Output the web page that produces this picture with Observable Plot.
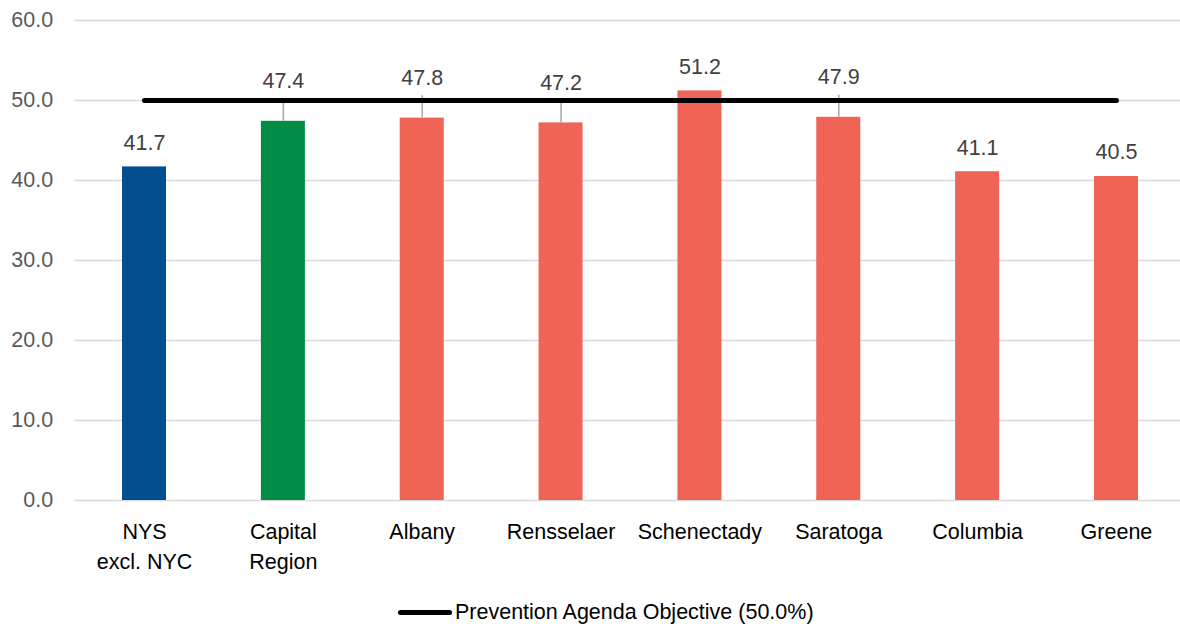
<!DOCTYPE html>
<html>
<head>
<meta charset="utf-8">
<script src="https://cdn.jsdelivr.net/npm/d3@7"></script>
<script src="https://cdn.jsdelivr.net/npm/@observablehq/plot@0.6"></script>
<style>
  html, body { margin: 0; padding: 0; background: #fff; }
  #legend { display: flex; align-items: center; height: 44px; margin-left: 398px;
    font-family: "Liberation Sans", Arial, sans-serif; font-size: 21.5px; color: #000; }
  #legend .sw { width: 54px; height: 5px; background: #000; border-radius: 3px; margin-right: 3px; }
</style>
</head>
<body>
<div id="chart"></div>
<div id="legend"><span class="sw"></span><span id="legtext"></span></div>
<script>
const categories = ["NYS\nexcl. NYC", "Capital\nRegion", "Albany", "Rensselaer", "Schenectady", "Saratoga", "Columbia", "Greene"];
const values = [41.7, 47.4, 47.8, 47.2, 51.2, 47.9, 41.1, 40.5];
const groups = ["State", "Region", "County", "County", "County", "County", "County", "County"];
const objective = 50.0;
const objectiveLabel = "Prevention Agenda Objective (50.0%)";
const yTicks = [0, 10, 20, 30, 40, 50, 60];

const data = categories.map((c, i) => ({cat: c, v: values[i], g: groups[i], target: objective}));
const crowded = d => Math.abs(d.v + 3 - objective) < 2.5;

const font = '"Liberation Sans", Arial, sans-serif';

const chart = Plot.plot({
  width: 1180,
  height: 590,
  marginTop: 20,
  marginBottom: 90,
  marginLeft: 74.6,
  marginRight: 0,
  style: {fontFamily: font, fontSize: "21.5px", background: "#fff"},
  x: {domain: categories, range: [74.6, 1185.4], paddingInner: 0.683, paddingOuter: 0.3415, round: false, label: null},
  y: {domain: [0, 60], label: null},
  color: {domain: ["State", "Region", "County"], range: ["#024f8f", "#038c46", "#f06456"]},
  marks: [
    Plot.ruleY(yTicks, {stroke: "#d9d9d9", strokeWidth: 1.3}),
    Plot.axisY(yTicks, {tickSize: 0, tickPadding: 22, tickFormat: d3.format(".1f"), fill: "#595959", fontSize: 21.5, label: null}),
    Plot.axisX({tickSize: 0, tickPadding: 17, fill: "#000", fontSize: 21.5, lineHeight: 1.4, label: null}),
    Plot.barY(data, {x: "cat", y: "v", fill: "g"}),
    Plot.ruleX(data.filter(crowded), {x: "cat", y1: "v", y2: d => d.v + 2.8, stroke: "#a6a6a6", strokeWidth: 1.5}),
    Plot.line(data, {x: "cat", y: "target", stroke: "#000", strokeWidth: 5, strokeLinecap: "round"}),
    Plot.text(data.filter(d => !crowded(d)), {x: "cat", y: "v", text: d => d3.format(".1f")(d.v), dy: -24, fill: "#404040", fontSize: 21.5}),
    Plot.text(data.filter(crowded), {x: "cat", y: "v", text: d => d3.format(".1f")(d.v), dy: -40, fill: "#404040", fontSize: 21.5})
  ]
});
document.getElementById("chart").appendChild(chart);
document.getElementById("legtext").textContent = objectiveLabel;
</script>
</body>
</html>
